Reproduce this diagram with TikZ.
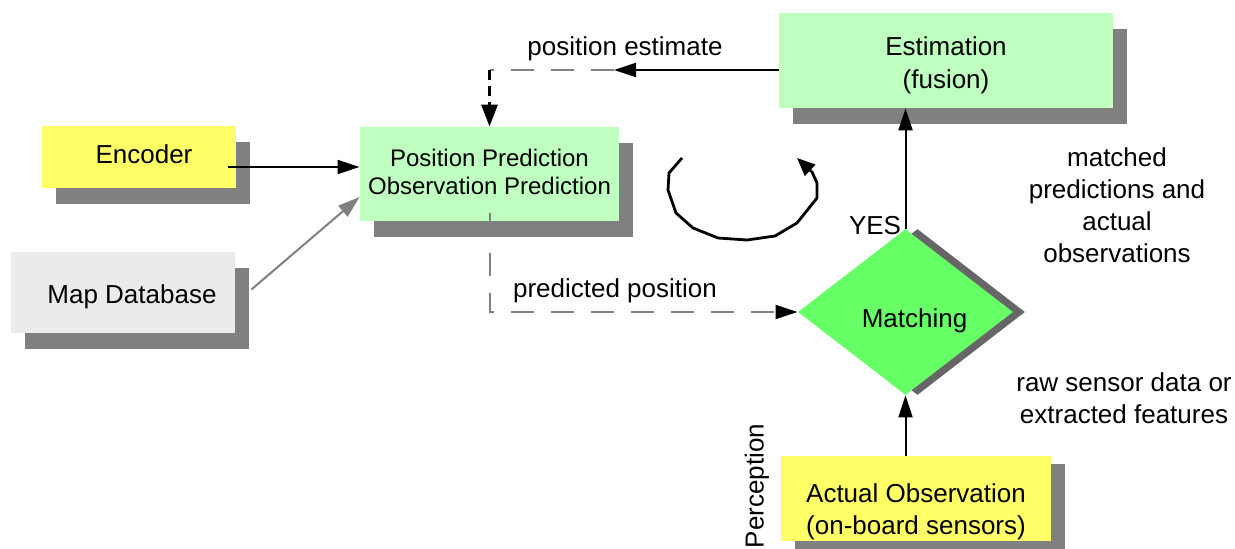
\documentclass[tikz,border=0pt]{standalone}
\usepackage{fontspec}
\setmainfont{Liberation Sans}
\usetikzlibrary{arrows.meta,shapes.geometric,shadows}

\definecolor{boxyellow}{HTML}{FFFF66}
\definecolor{boxgreen}{HTML}{BFFFBF}
\definecolor{matchgreen}{HTML}{66FF66}
\definecolor{dbgray}{HTML}{EBEBEB}
\definecolor{shadegray}{HTML}{808080}
\definecolor{darkshade}{HTML}{666666}

\tikzset{
  box/.style={rectangle, inner sep=0pt,
    drop shadow={opacity=1, fill=shadegray, shadow xshift=7pt, shadow yshift=#1}},
  box/.default=-8pt,
  boxtext/.style={font=\fontsize{13}{16.5}\selectfont, align=center, inner sep=0pt},
  arr/.style={line width=1pt, -{Triangle[length=11pt,width=7pt]}},
  graydash/.style={line width=1pt, shadegray, dash pattern=on 11.5pt off 8.5pt},
  lbl/.style={font=\fontsize{13}{16}\selectfont, align=center},
}

\begin{document}
\begin{tikzpicture}[x=0.5pt, y=-0.5pt]
    \useasboundingbox (0,0) rectangle (1235,549);

    % Boxes
    \node[box, fill=boxyellow, minimum width=97pt, minimum height=31pt,
          label={[boxtext, shift={(2.5pt,1.5pt)}]center:Encoder}] (enc) at (139,157) {};
    \node[box, fill=dbgray, minimum width=112pt, minimum height=40.5pt,
          label={[boxtext, shift={(4.5pt,-2pt)}]center:Map Database}] (db) at (123,292.5) {};
    \node[box, fill=boxgreen, minimum width=129.5pt, minimum height=47pt,
          label={[boxtext, font=\fontsize{12}{14}\selectfont, shift={(0pt,1.25pt)}]center:Position Prediction\\Observation Prediction}] (pp) at (489.5,174) {};
    \node[box, fill=boxgreen, minimum width=167pt, minimum height=47.5pt,
          label={[boxtext, shift={(0pt,-2.25pt)}]center:Estimation\\(fusion)}] (est) at (946,60.5) {};
    \node[box=-4pt, fill=boxyellow, minimum width=135pt, minimum height=42.5pt,
          label={[boxtext, font=\fontsize{13}{16}\selectfont, shift={(0pt,-6.75pt)}]center:Actual Observation\\(on-board sensors)}] (obs) at (916,498.5) {};

    % Matching
    \node[diamond, fill=matchgreen, aspect=1.3, inner sep=0pt,
          minimum width=107.5pt, minimum height=83pt,
          label={[boxtext, shift={(4.5pt,-4.5pt)}]center:Matching},
          drop shadow={opacity=1, fill=darkshade, shadow xshift=6pt, shadow yshift=0pt}] (match) at (905.5,312) {};

    % Inputs to the prediction
    \draw[arr] ([shift={(-4pt,-5pt)}]enc.east) -- ([yshift=-5pt]enc.east -| pp.west);
    \draw[line width=1pt, shadegray, -{Triangle[length=11pt,width=7pt]}]
        ([shift={(8pt,1.5pt)}]db.east) -- ([yshift=-11.5pt]pp.west);

    % Position estimate fed back
    \coordinate (pe) at (614,70);
    \draw[arr] ([yshift=-4.75pt]est.west) -- (pe);
    \draw[graydash] (pe) -- (pp.north |- pe);
    \draw[line width=1.5pt, dash pattern=on 5pt off 3pt, -{Triangle[length=11pt,width=8pt]}]
        (pp.north |- pe) -- (pp.north);

    % Predicted position to matching
    \draw[graydash, -{Triangle[length=11pt,width=7pt,color=black]}]
        ([yshift=4pt]pp.south) |- (match.west);

    % Matching and perception
    \draw[arr] (match.north) -- (match.north |- est.south);
    \draw[arr] (obs.north -| match.south) -- (match.south);

    % Cycle
    \draw[line width=1.4pt, line join=round, -{Triangle[length=9pt,width=7.5pt]}]
        (682,158) -- (669,173) -- (668,190) -- (676,213) -- (693,228) -- (718,238)
        -- (747,240) -- (775,236) -- (797,223) -- (817,198) -- (817,183) -- (812,172) -- (797,158);

    % Labels
    \node[lbl] (petext) at (625,49) {position estimate};
    \node[lbl] (pptext) at (615,291) {predicted position};
    \node[lbl] (yes) at (875,226) {YES};
    \node[lbl] (mtext) at (1117,205.5) {matched\\predictions and\\actual\\observations};
    \node[lbl] (rtext) at (1124,398) {raw sensor data or\\extracted features};
    \node[lbl, rotate=90] (perc) at (757,486) {Perception};
\end{tikzpicture}
\end{document}
